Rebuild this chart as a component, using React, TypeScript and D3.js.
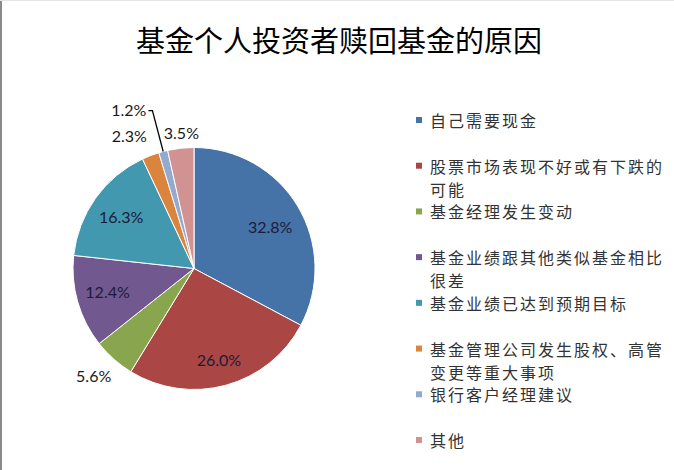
import { useEffect, useRef } from 'react';
import * as d3 from 'd3';

// Datos del gráfico
const titulo = '基金个人投资者赎回基金的原因';
const categorias = [
  '自己需要现金',
  '股票市场表现不好或有下跌的可能',
  '基金经理发生变动',
  '基金业绩跟其他类似基金相比很差',
  '基金业绩已达到预期目标',
  '基金管理公司发生股权、高管变更等重大事项',
  '银行客户经理建议',
  '其他',
];
// legend lines (wrapped like the original)
const lineasLeyenda = [
  ['自己需要现金'],
  ['股票市场表现不好或有下跌的', '可能'],
  ['基金经理发生变动'],
  ['基金业绩跟其他类似基金相比', '很差'],
  ['基金业绩已达到预期目标'],
  ['基金管理公司发生股权、高管', '变更等重大事项'],
  ['银行客户经理建议'],
  ['其他'],
];
const valores = [32.8, 26.0, 5.6, 12.4, 16.3, 2.3, 1.2, 3.5];
const etiquetas = ['32.8%', '26.0%', '5.6%', '12.4%', '16.3%', '2.3%', '1.2%', '3.5%'];
const colores = ['#4572A7', '#AA4643', '#89A54E', '#71588F', '#4198AF', '#DB843D', '#93A9CF', '#D19392'];

// label placement: radius factor and angle nudge (degrees) per slice
const radioEtiqueta = [0.72, 0.78, 1.215, 0.74, 0.74, 1.22, 1.0, 1.13];
const ajusteAngulo = [2, 0, 1.5, 1, 0, -5, 0, 1];
const fueraDelPastel = [false, false, true, false, false, true, true, true];

const W = 674;
const H = 470;

const App: any = () => {
  const svgRef = useRef<any>(null);

  useEffect(() => {
    const svg = d3.select(svgRef.current);
    svg.selectAll('*').remove();

    svg.append('rect').attr('width', W).attr('height', H).attr('fill', '#fff');
    // borde gris a la izquierda
    svg.append('rect').attr('x', 0).attr('y', 0).attr('width', 2).attr('height', H).attr('fill', '#8a8a8a');
    svg.append('rect').attr('x', 0).attr('y', 0).attr('width', W).attr('height', 1).attr('fill', '#e6e6e6');

    // Título
    svg.append('text')
      .attr('x', 339)
      .attr('y', 52)
      .attr('text-anchor', 'middle')
      .attr('font-family', '"Noto Sans CJK SC", sans-serif')
      .attr('font-size', 29)
      .attr('fill', '#000')
      .text(titulo);

    const cx = 194;
    const cy = 268.5;
    const r = 121;

    const pie = d3.pie<number>().sort(null).value((d) => d);
    const arcs = pie(valores);
    const arc = d3.arc<d3.PieArcDatum<number>>().innerRadius(0).outerRadius(r);

    const g = svg.append('g').attr('transform', `translate(${cx},${cy})`);

    g.selectAll('path.slice')
      .data(arcs)
      .enter()
      .append('path')
      .attr('class', 'slice')
      .attr('d', arc as any)
      .attr('fill', (d, i) => colores[i])
      .attr('stroke', '#fff')
      .attr('stroke-width', 1);

    const pos = (ang: number, rad: number) => [Math.sin(ang) * rad, -Math.cos(ang) * rad];

    arcs.forEach((a, i) => {
      const mid = (a.startAngle + a.endAngle) / 2;
      if (i === 6) {
        // etiqueta con línea guía
        const p0 = pos(mid, r);
        const p1 = pos(mid, r * 1.35);
        const p2 = [p1[0] - 4, p1[1]];
        g.append('path')
          .attr('d', d3.line()([p0 as any, p1 as any, p2 as any]))
          .attr('fill', 'none')
          .attr('stroke', '#000')
          .attr('stroke-width', 1.3);
        g.append('text')
          .attr('x', p2[0] - 2)
          .attr('y', p2[1] - 1)
          .attr('text-anchor', 'end')
          .attr('dominant-baseline', 'central')
          .attr('font-family', 'Lato, "Open Sans", sans-serif')
          .attr('font-size', 16)
          .attr('fill', '#1a1a1a')
          .text(etiquetas[i]);
        return;
      }
      const ang = mid + (ajusteAngulo[i] * Math.PI) / 180;
      const p = pos(ang, r * radioEtiqueta[i]);
      g.append('text')
        .attr('x', p[0])
        .attr('y', p[1])
        .attr('text-anchor', 'middle')
        .attr('dominant-baseline', 'central')
        .attr('font-family', 'Lato, "Open Sans", sans-serif')
        .attr('font-size', 16)
        .attr('fill', fueraDelPastel[i] ? '#1a1a1a' : '#1c1c3a')
        .text(etiquetas[i]);
    });

    // Leyenda
    const yLeyenda = d3.scalePoint<string>().domain(categorias).range([120, 440]);
    const ley = svg.append('g');
    categorias.forEach((c, i) => {
      const y0 = yLeyenda(c) as number;
      ley.append('rect')
        .attr('x', 416)
        .attr('y', y0 - 3)
        .attr('width', 6)
        .attr('height', 6)
        .attr('fill', colores[i]);
      lineasLeyenda[i].forEach((ln, j) => {
        ley.append('text')
          .attr('x', 430)
          .attr('y', y0 + j * 23.3)
          .attr('dominant-baseline', 'central')
          .attr('font-family', '"Noto Sans CJK SC", sans-serif')
          .attr('font-size', 16)
          .attr('letter-spacing', 2)
          .attr('fill', '#333')
          .text(ln);
      });
    });
  }, []);

  return (
    <div style={{ position: 'absolute', left: 0, top: 0 }}>
      <svg ref={svgRef} width={W} height={H} />
    </div>
  );
};

export default App;
